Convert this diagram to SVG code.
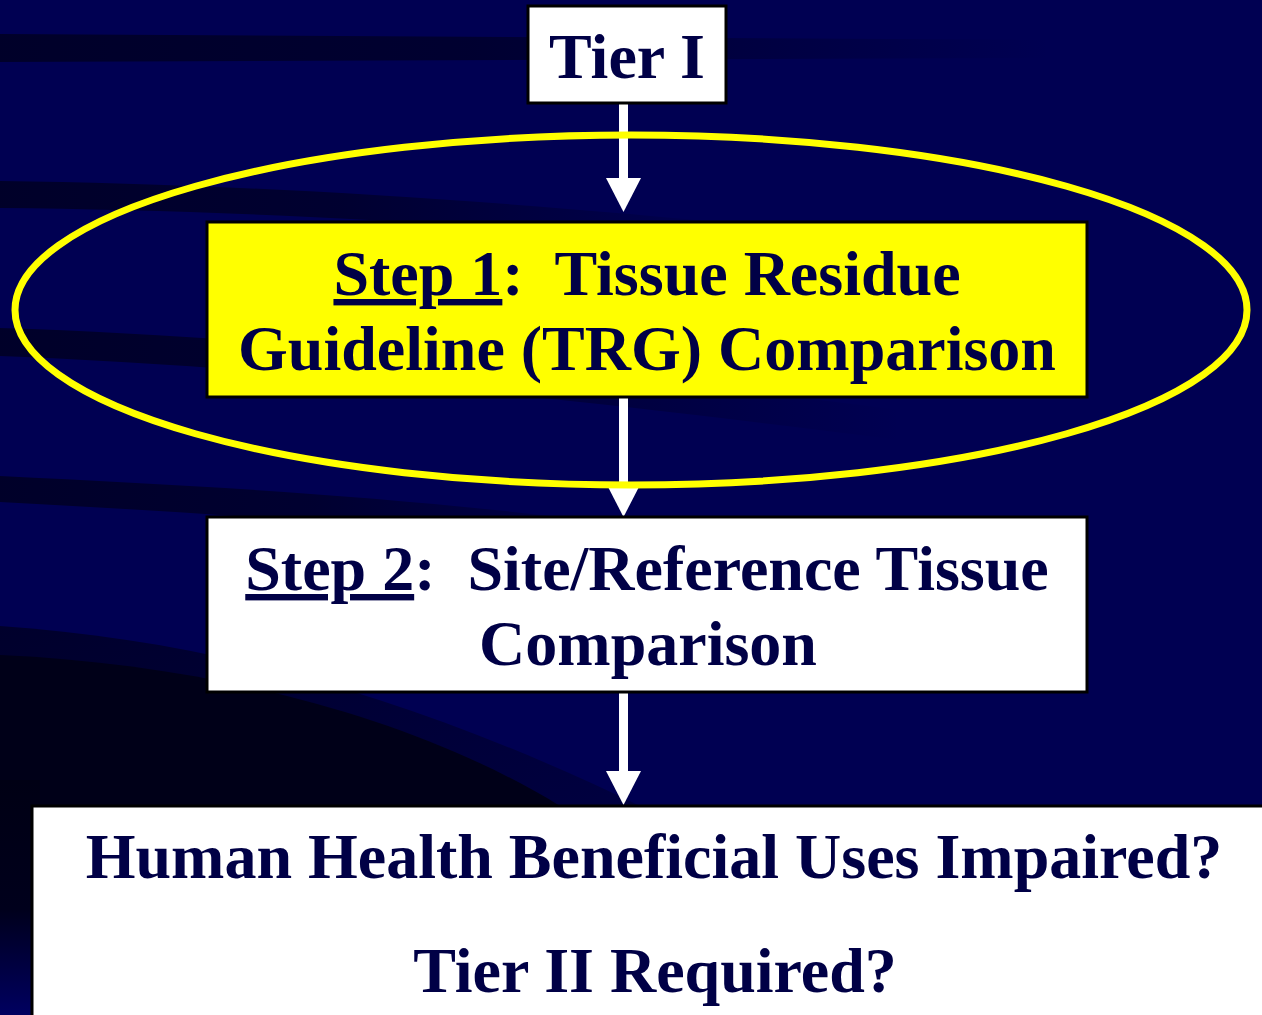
<svg xmlns="http://www.w3.org/2000/svg" width="1262" height="1015" viewBox="0 0 1262 1015">
<style>
.box{stroke:#000000;stroke-width:3}
.t{font-family:"Liberation Serif","Times New Roman",serif;font-weight:bold;font-size:64px;fill:#000046;text-anchor:middle}
.u{text-decoration:underline;text-decoration-thickness:5px;text-underline-offset:7px}
.shaft{stroke:#ffffff;stroke-width:9}
</style>
<defs>
<marker id="head" viewBox="0 0 34 35" refX="0" refY="17.5" markerUnits="userSpaceOnUse" markerWidth="34" markerHeight="35" orient="auto">
<path d="M0,0 L34,17.5 L0,35 Z" fill="#ffffff"/>
</marker>
<linearGradient id="fadeR" x1="0" y1="0" x2="1" y2="0">
<stop offset="0" stop-color="#000022" stop-opacity="0.85"/>
<stop offset="0.45" stop-color="#000022" stop-opacity="0.7"/>
<stop offset="1" stop-color="#000022" stop-opacity="0"/>
</linearGradient>
<linearGradient id="darkV" x1="0" y1="0" x2="0" y2="1">
<stop offset="0" stop-color="#000014"/>
<stop offset="0.55" stop-color="#00001c"/>
<stop offset="1" stop-color="#000060"/>
</linearGradient>
<linearGradient id="midV" x1="0" y1="0" x2="1" y2="1">
<stop offset="0" stop-color="#00002c"/>
<stop offset="1" stop-color="#000040"/>
</linearGradient>
</defs>
<g id="background">
<rect x="0" y="0" width="1262" height="1015" fill="#000052"/>
<path d="M0,34 L1050,40 L1050,58 L0,62 Z" fill="url(#fadeR)"/>
<path d="M0,181 C220,184 450,196 760,226 L760,246 C450,222 220,210 0,208 Z" fill="url(#fadeR)"/>
<path d="M0,328 C250,336 500,360 900,410 L900,440 C500,390 250,366 0,356 Z" fill="url(#fadeR)"/>
<path d="M0,476 C250,488 450,500 700,535 L700,560 C450,530 250,515 0,502 Z" fill="url(#fadeR)"/>
<path d="M0,626 C200,640 400,690 640,806 L0,806 Z" fill="url(#midV)"/>
<path d="M0,655 C220,665 420,720 560,806 L0,806 Z" fill="#000018"/>
<rect x="0" y="780" width="40" height="235" fill="url(#darkV)"/>
</g>
<g id="connectors">
<line class="shaft" x1="623.5" y1="104" x2="623.5" y2="178" marker-end="url(#head)"/>
<line class="shaft" x1="623.5" y1="397" x2="623.5" y2="483" marker-end="url(#head)"/>
<line class="shaft" x1="623.5" y1="692" x2="623.5" y2="771" marker-end="url(#head)"/>
</g>
<g id="highlight">
<ellipse cx="631" cy="310" rx="616" ry="175" fill="none" stroke="#ffff00" stroke-width="7"/>
</g>
<g id="tier1">
<rect class="box" x="528" y="6" width="198" height="97" fill="#ffffff"/>
<text class="t" x="627" y="78">Tier I</text>
</g>
<g id="step1">
<rect class="box" x="207" y="222" width="880" height="175" fill="#ffff00"/>
<text class="t" x="647" y="295" xml:space="preserve"><tspan class="u">Step 1</tspan>:  Tissue Residue</text>
<text class="t" x="647" y="370">Guideline (TRG) Comparison</text>
</g>
<g id="step2">
<rect class="box" x="207" y="517" width="880" height="175" fill="#ffffff"/>
<text class="t" x="647" y="590" xml:space="preserve"><tspan class="u">Step 2</tspan>:  Site/Reference Tissue</text>
<text class="t" x="648" y="665">Comparison</text>
</g>
<g id="outcome">
<rect class="box" x="32" y="806" width="1245" height="220" fill="#ffffff"/>
<text class="t" x="654" y="878">Human Health Beneficial Uses Impaired?</text>
<text class="t" x="655" y="992">Tier II Required?</text>
</g>
</svg>
